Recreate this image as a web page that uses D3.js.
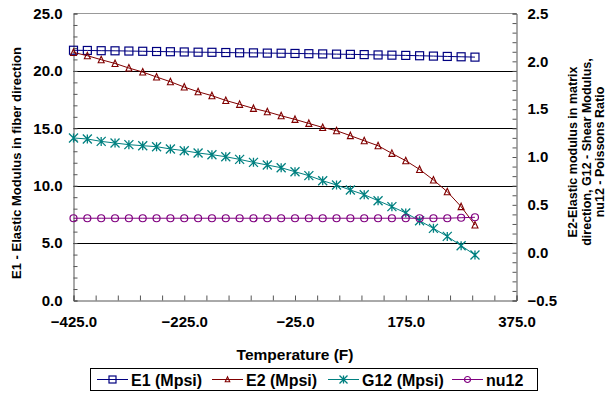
<!DOCTYPE html>
<html>
<head>
<meta charset="utf-8">
<script src="https://cdn.jsdelivr.net/npm/d3@7"></script>
<style>
  body { margin: 0; background: #fff; }
  svg text { font-family: "Liberation Sans", Arial, sans-serif; font-weight: bold; fill: #000; }
</style>
</head>
<body>
<div id="chart"></div>
<script>
// Data
const temps = [-425, -400, -375, -350, -325, -300, -275, -250, -225, -200,
               -175, -150, -125, -100, -75, -50, -25, 0, 25, 50,
               75, 100, 125, 150, 175, 200, 225, 250, 275, 300];
const e1 = [21.80, 21.78, 21.76, 21.75, 21.73, 21.71, 21.69, 21.67, 21.65, 21.63,
            21.62, 21.60, 21.58, 21.57, 21.55, 21.54, 21.52, 21.50, 21.48, 21.46,
            21.44, 21.42, 21.39, 21.37, 21.35, 21.32, 21.29, 21.26, 21.23, 21.20];
const e2 = [2.093, 2.059, 2.017, 1.978, 1.930, 1.888, 1.836, 1.787, 1.731, 1.682,
            1.641, 1.591, 1.550, 1.508, 1.473, 1.431, 1.393, 1.351, 1.309, 1.275,
            1.223, 1.170, 1.118, 1.038, 0.961, 0.870, 0.760, 0.637, 0.481, 0.289];
const g12 = [1.199, 1.188, 1.163, 1.146, 1.129, 1.118, 1.108, 1.084, 1.066, 1.042,
             1.024, 1.003, 0.975, 0.944, 0.916, 0.888, 0.846, 0.805, 0.752, 0.707,
             0.655, 0.606, 0.543, 0.481, 0.415, 0.334, 0.254, 0.170, 0.073, -0.024];
const nu12 = [0.36, 0.36, 0.36, 0.36, 0.36, 0.36, 0.36, 0.36, 0.36, 0.36,
              0.36, 0.36, 0.36, 0.36, 0.36, 0.36, 0.36, 0.36, 0.36, 0.36,
              0.36, 0.36, 0.36, 0.36, 0.36, 0.36, 0.36, 0.36, 0.365, 0.37];

const xTicks = [-425, -225, -25, 175, 375];
const leftTicks = [0, 5, 10, 15, 20, 25];
const rightTicks = [-0.5, 0, 0.5, 1.0, 1.5, 2.0, 2.5];
const gridValues = [5, 10, 15, 20];

const W = 611, H = 403;
const plot = { left: 73.5, right: 516.5, top: 13.5, bottom: 300.5 };

const svg = d3.select("#chart").append("svg")
    .attr("width", W)
    .attr("height", H);

const x = d3.scaleLinear().domain([-425, 375]).range([plot.left, plot.right]);
const yL = d3.scaleLinear().domain([0, 25]).range([plot.bottom, plot.top]);
const yR = d3.scaleLinear().domain([-0.5, 2.5]).range([plot.bottom, plot.top]);

// plot area top border (gray)
svg.append("line")
    .attr("x1", plot.left).attr("x2", plot.right)
    .attr("y1", plot.top).attr("y2", plot.top)
    .attr("stroke", "#999").attr("stroke-width", 1);

// gridlines
svg.append("g").selectAll("line")
    .data(gridValues)
    .join("line")
    .attr("x1", plot.left).attr("x2", plot.right)
    .attr("y1", d => Math.round(yL(d)) + 0.5).attr("y2", d => Math.round(yL(d)) + 0.5)
    .attr("stroke", "#000").attr("stroke-width", 1);

// left axis: minor ticks every 1, labels every 5
const leftAxis = svg.append("g")
    .attr("transform", `translate(${plot.left},0)`)
    .call(d3.axisLeft(yL)
        .tickValues(d3.range(0, 25.001, 1))
        .tickSize(-4)
        .tickPadding(11)
        .tickFormat(d => leftTicks.includes(d) ? d3.format(".1f")(d) : ""));
leftAxis.select(".domain").attr("stroke", "#555");
leftAxis.selectAll(".tick line").attr("stroke", "#555");
leftAxis.selectAll("text").style("font-size", "15px");

// right axis: minor ticks every 0.1, labels every 0.5
const rightAxis = svg.append("g")
    .attr("transform", `translate(${plot.right},0)`)
    .call(d3.axisRight(yR)
        .tickValues(d3.range(-5, 25.001, 1).map(v => v / 10))
        .tickSize(-4)
        .tickPadding(11)
        .tickFormat(d => rightTicks.some(t => Math.abs(t - d) < 1e-9) ? d3.format(".1f")(d) : ""));
rightAxis.select(".domain").attr("stroke", "#555");
rightAxis.selectAll(".tick line").attr("stroke", "#555");
rightAxis.selectAll("text").style("font-size", "15px");

// bottom axis: minor ticks every 40, labels every 200
const bottomAxis = svg.append("g")
    .attr("transform", `translate(0,${plot.bottom})`)
    .call(d3.axisBottom(x)
        .tickValues(d3.range(-425, 375.001, 40))
        .tickSize(-5)
        .tickPadding(16)
        .tickFormat(d => xTicks.includes(d) ? d3.format(".1f")(d) : ""));
bottomAxis.select(".domain").attr("stroke", "#555");
bottomAxis.selectAll(".tick line").attr("stroke", "#555");
bottomAxis.selectAll("text").style("font-size", "15px");

// axis titles
svg.append("text")
    .attr("x", (plot.left + plot.right) / 2)
    .attr("y", 360)
    .attr("text-anchor", "middle")
    .style("font-size", "15.5px")
    .text("Temperature (F)");

svg.append("text")
    .attr("transform", "translate(21,163) rotate(-90)")
    .attr("text-anchor", "middle")
    .style("font-size", "13px")
    .text("E1 - Elastic Modulus in fiber direction");

const rTitle = ["E2-Elastic modulus in matrix", "direction, G12 - Shear Modulus,", "nu12 - Poissons Ratio"];
svg.append("g")
    .attr("transform", "translate(577,152) rotate(-90)")
    .selectAll("text")
    .data(rTitle)
    .join("text")
    .attr("x", 0)
    .attr("y", (d, i) => i * 13.5)
    .attr("text-anchor", "middle")
    .style("font-size", "12.5px")
    .text(d => d);

// series
const series = [
    { name: "E1 (Mpsi)", values: e1, y: yL, color: "#000080", marker: "square" },
    { name: "E2 (Mpsi)", values: e2, y: yR, color: "#800000", marker: "triangle" },
    { name: "G12 (Mpsi)", values: g12, y: yR, color: "#008080", marker: "star" },
    { name: "nu12", values: nu12, y: yR, color: "#800080", marker: "circle" }
];

function drawMarker(g, type, color, size) {
    if (type === "square") {
        g.append("rect").attr("x", -size / 2).attr("y", -size / 2)
            .attr("width", size).attr("height", size)
            .attr("fill", "none").attr("stroke", color).attr("stroke-width", 1.2);
    } else if (type === "triangle") {
        const s = size * 0.75;
        g.append("path").attr("d", `M0,${-s / 2 - 0.5}L${s / 2},${s / 2}L${-s / 2},${s / 2}Z`)
            .attr("fill", "none").attr("stroke", color).attr("stroke-width", 1.1);
    } else if (type === "circle") {
        g.append("circle").attr("r", size / 2 - 0.5)
            .attr("fill", "none").attr("stroke", color).attr("stroke-width", 1.2);
    } else if (type === "star") {
        const s = size / 2 + 0.5;
        g.append("path").attr("d", `M${-s},${-s}L${s},${s}M${-s},${s}L${s},${-s}M0,${-s}L0,${s}`)
            .attr("fill", "none").attr("stroke", color).attr("stroke-width", 1.3);
    }
}

const line = d3.line();
series.forEach(s => {
    const pts = temps.map((t, i) => [x(t), s.y(s.values[i])]);
    svg.append("path")
        .attr("d", line(pts))
        .attr("fill", "none")
        .attr("stroke", s.color)
        .attr("stroke-width", 1);
    pts.forEach(p => {
        const g = svg.append("g").attr("transform", `translate(${p[0]},${p[1]})`);
        drawMarker(g, s.marker, s.color, 8);
    });
});

// legend
const legend = svg.append("g");
legend.append("rect")
    .attr("x", 90.5).attr("y", 368.5)
    .attr("width", 447).attr("height", 22)
    .attr("fill", "#fff").attr("stroke", "#000").attr("stroke-width", 1);

const legendX = [97, 212, 328, 452];
series.forEach((s, i) => {
    const g = legend.append("g").attr("transform", `translate(${legendX[i]},379.5)`);
    g.append("line").attr("x1", 0).attr("x2", 31).attr("y1", 0).attr("y2", 0)
        .attr("stroke", s.color).attr("stroke-width", 1);
    const m = g.append("g").attr("transform", "translate(15.5,0)");
    drawMarker(m, s.marker, s.color, s.marker === "triangle" ? 6 : 7);
    g.append("text")
        .attr("x", 34).attr("y", 6)
        .style("font-size", "16px")
        .text(s.name);
});
</script>
</body>
</html>
